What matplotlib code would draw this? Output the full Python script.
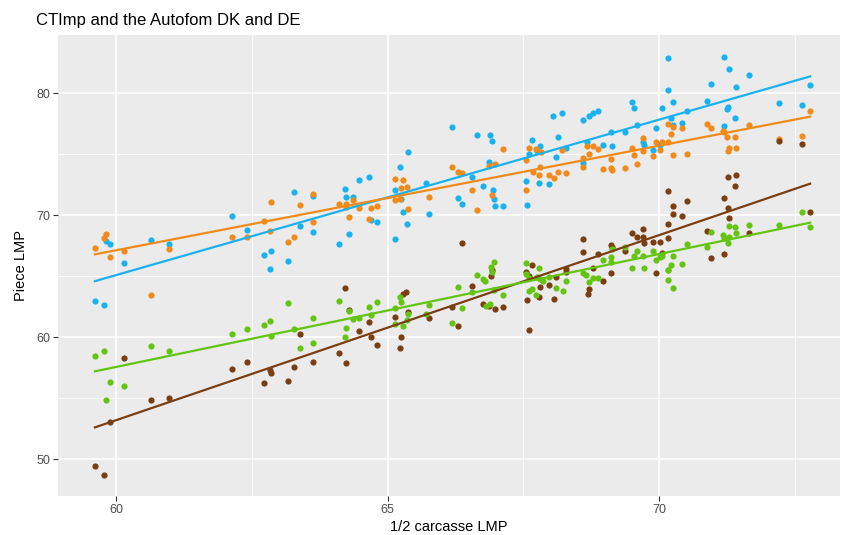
import numpy as np
import matplotlib.pyplot as plt
from matplotlib.ticker import MultipleLocator

plt.rcParams['font.family'] = ['Liberation Sans', 'DejaVu Sans']

# data: (1/2 carcasse LMP, Piece LMP)
blue_x = [59.61, 59.78, 59.82, 59.88, 60.14, 60.64, 60.98, 62.13, 62.41, 62.73, 62.86, 62.84, 63.16,
          63.28, 63.62, 63.38, 63.62, 64.22, 64.24, 64.37, 64.48, 64.66, 64.28, 64.11, 64.70, 64.81,
          65.14, 65.25, 65.22, 65.38, 65.29, 65.36, 65.14, 65.70, 65.77, 66.19, 66.64, 66.55, 66.30,
          66.37, 66.88, 66.93, 66.86, 66.76, 66.94, 66.96, 66.97, 67.13, 67.54, 67.79, 67.97, 67.56,
          67.66, 67.80, 67.61, 67.75, 68.05, 68.22, 68.13, 68.29, 68.10, 68.59, 68.70, 68.79, 68.88,
          68.68, 68.59, 68.96, 69.13, 69.11, 69.37, 69.50, 69.54, 69.59, 69.71, 69.72, 69.88, 69.95,
          70.01, 70.06, 70.16, 70.16, 70.25, 70.21, 70.25, 70.42, 70.51, 70.88, 70.95, 71.19, 71.29,
          71.26, 71.25, 71.19, 71.40, 71.42, 71.66, 72.20, 72.63, 72.78]
blue_y = [63.00, 62.66, 67.90, 67.64, 66.10, 68.00, 67.66, 69.96, 68.76, 66.74, 67.07, 65.56, 66.27,
          71.95, 71.62, 69.16, 68.65, 72.17, 71.52, 71.52, 72.88, 73.13, 68.43, 67.64, 69.60, 69.44,
          72.09, 71.35, 74.00, 75.20, 70.26, 69.30, 68.10, 72.64, 70.10, 77.28, 76.62, 73.16, 71.46,
          70.97, 76.62, 76.08, 74.41, 72.44, 72.07, 71.35, 70.80, 70.75, 72.80, 72.64, 72.56, 70.84,
          76.20, 75.70, 75.07, 75.26, 78.13, 78.40, 76.41, 75.56, 74.80, 77.83, 78.13, 78.40, 78.54,
          76.05, 74.30, 75.75, 75.67, 76.87, 76.82, 79.28, 78.79, 77.39, 76.05, 75.75, 75.37, 77.15,
          75.75, 78.84, 82.93, 80.29, 79.33, 77.97, 77.42, 77.60, 78.57, 79.41, 80.78, 82.97, 82.03,
          78.92, 78.70, 77.34, 77.99, 80.53, 81.49, 79.20, 79.03, 80.70]

orange_x = [59.61, 59.82, 59.78, 59.88, 60.14, 60.64, 60.98, 62.13, 62.41, 62.73, 62.86, 62.84, 63.16,
            63.28, 63.62, 63.38, 63.62, 64.11, 64.24, 64.24, 64.37, 64.48, 64.29, 64.70, 64.81, 64.66,
            65.14, 65.29, 65.25, 65.36, 65.14, 65.22, 65.38, 65.77, 66.19, 66.30, 66.37, 66.56, 66.64,
            66.87, 66.97, 66.92, 67.13, 67.61, 67.74, 67.83, 67.55, 67.80, 67.67, 67.79, 67.97, 68.06,
            68.13, 68.29, 67.54, 68.22, 68.68, 68.79, 68.88, 68.59, 68.70, 68.59, 69.11, 69.11, 69.13,
            68.96, 69.37, 69.50, 69.54, 69.59, 69.71, 69.71, 69.88, 69.94, 70.06, 70.16, 70.01, 70.17,
            70.25, 70.42, 70.21, 70.25, 70.51, 70.88, 70.95, 71.17, 71.19, 71.25, 71.40, 71.29, 71.26,
            71.42, 71.66, 72.20, 72.63, 72.78]
orange_y = [67.36, 68.46, 68.13, 66.60, 67.10, 63.50, 67.20, 68.26, 68.26, 69.57, 71.13, 68.73, 67.85,
            68.21, 71.79, 70.89, 69.47, 70.97, 70.94, 70.72, 71.27, 70.59, 69.85, 70.59, 70.80, 69.71,
            73.02, 72.88, 72.23, 72.31, 71.27, 71.35, 70.56, 71.52, 74.00, 73.59, 73.46, 72.09, 70.45,
            74.06, 74.20, 71.68, 75.45, 75.53, 75.43, 75.18, 74.57, 74.00, 73.54, 73.32, 73.32, 73.05,
            73.54, 73.46, 72.09, 75.39, 75.72, 75.67, 75.45, 74.69, 75.04, 74.00, 74.60, 73.87, 73.75,
            73.84, 73.87, 75.51, 74.93, 74.22, 76.33, 75.29, 74.90, 76.00, 76.05, 76.05, 75.37, 77.50,
            77.28, 77.20, 76.70, 74.96, 75.02, 77.50, 77.20, 76.95, 76.82, 76.41, 76.46, 75.51, 75.29,
            75.51, 77.42, 76.30, 76.54, 78.54]

green_x = [59.61, 59.78, 59.88, 59.82, 60.14, 60.64, 60.98, 62.13, 62.41, 62.73, 62.84, 62.86, 63.16,
           63.62, 63.28, 63.38, 63.62, 64.11, 64.24, 64.22, 64.29, 64.37, 64.48, 64.66, 64.81, 64.70,
           65.14, 65.25, 65.22, 65.38, 65.36, 65.14, 65.29, 65.70, 65.77, 66.19, 66.30, 66.37, 66.56,
           66.64, 66.95, 66.91, 66.92, 66.76, 66.80, 66.96, 67.13, 66.88, 66.81, 67.54, 67.79, 67.54,
           67.61, 67.75, 67.80, 67.87, 67.97, 67.65, 67.61, 67.73, 68.10, 68.23, 68.29, 68.59, 68.65,
           68.70, 68.79, 68.88, 68.96, 69.11, 69.11, 69.13, 69.37, 69.54, 69.59, 69.50, 69.71, 69.72,
           69.88, 69.95, 70.01, 70.06, 70.16, 70.16, 70.25, 70.17, 70.21, 70.25, 70.42, 70.51, 70.88,
           70.95, 71.17, 71.19, 71.29, 71.26, 71.28, 71.40, 71.41, 71.66, 72.20, 72.63, 72.78]
green_y = [58.48, 58.87, 56.33, 54.82, 56.00, 59.28, 58.87, 60.23, 60.70, 61.00, 61.35, 60.10, 62.77,
           61.57, 60.67, 59.11, 59.49, 62.99, 60.75, 60.02, 62.17, 61.49, 61.57, 62.44, 62.85, 61.79,
           62.36, 62.85, 63.34, 61.87, 61.43, 61.10, 60.94, 61.90, 62.66, 61.16, 64.11, 62.36, 63.67,
           65.07, 66.21, 65.80, 65.39, 64.77, 64.63, 63.89, 63.48, 62.72, 62.60, 66.13, 65.70, 65.15,
           64.90, 64.93, 64.77, 64.60, 64.93, 63.95, 63.79, 63.48, 64.03, 63.81, 64.60, 65.26, 65.10,
           64.52, 64.82, 64.82, 66.35, 66.62, 66.21, 67.23, 67.44, 66.68, 67.11, 65.70, 66.68, 65.70,
           67.11, 66.35, 66.62, 66.68, 65.53, 64.71, 66.68, 65.48, 65.94, 64.06, 66.02, 67.64, 67.44,
           68.67, 68.40, 68.18, 68.21, 67.72, 69.14, 69.06, 68.59, 69.22, 69.22, 70.31, 69.08]

brown_x = [59.61, 59.78, 59.88, 60.14, 60.64, 60.98, 62.13, 62.41, 62.73, 62.84, 62.86, 63.16, 63.28,
           63.38, 63.62, 64.11, 64.22, 64.29, 64.24, 64.48, 64.66, 64.70, 64.81, 65.14, 65.22, 65.25,
           65.29, 65.34, 65.38, 65.77, 66.19, 66.30, 66.37, 66.56, 66.76, 66.86, 66.97, 67.13, 66.91,
           66.92, 67.54, 67.61, 67.66, 67.56, 67.61, 67.80, 67.97, 67.79, 68.07, 68.10, 68.29, 68.29,
           68.59, 68.59, 68.79, 68.70, 68.69, 68.88, 68.96, 69.11, 69.13, 69.11, 69.37, 69.50, 69.71,
           69.59, 69.71, 69.72, 69.88, 70.01, 70.06, 69.95, 70.16, 70.16, 70.16, 70.25, 70.25, 70.42,
           70.51, 70.88, 70.95, 71.19, 71.19, 71.26, 71.42, 71.40, 71.26, 71.29, 71.66, 72.20, 72.63,
           72.78]
brown_y = [49.41, 48.73, 53.05, 58.32, 54.88, 55.02, 57.42, 57.99, 56.25, 57.28, 57.07, 56.38, 57.56,
           60.29, 57.97, 58.70, 64.03, 62.25, 57.89, 60.48, 61.25, 59.98, 59.33, 61.62, 59.08, 60.04,
           63.56, 63.70, 62.09, 61.57, 62.52, 60.94, 67.77, 64.22, 62.72, 62.60, 62.31, 62.52, 65.04,
           65.53, 65.34, 65.04, 65.91, 63.07, 60.61, 64.11, 64.28, 63.26, 63.10, 64.93, 65.59, 65.39,
           68.10, 66.98, 65.67, 63.95, 63.57, 66.82, 64.63, 67.56, 67.40, 65.26, 67.11, 68.54, 68.90,
           68.24, 68.26, 67.72, 67.80, 67.85, 66.90, 65.26, 72.00, 69.28, 68.18, 70.80, 70.12, 69.93,
           71.21, 68.73, 66.49, 71.43, 66.82, 73.13, 73.34, 72.42, 70.64, 69.77, 68.59, 76.08, 75.84,
           70.31]

# fitted lines (ends)
fit_x = [59.61, 72.78]
blue_fit = [64.6, 81.4]
orange_fit = [66.8, 78.1]
brown_fit = [52.6, 72.6]
green_fit = [57.2, 69.4]

series = [
    (blue_x, blue_y, blue_fit, '#1AB2EE'),
    (orange_x, orange_y, orange_fit, '#F08A1A'),
    (brown_x, brown_y, brown_fit, '#7A3E12'),
    (green_x, green_y, green_fit, '#63C412'),
]

fig = plt.figure(figsize=(8.45, 5.35), dpi=100)
ax = fig.add_axes([58/845, 1-496/535, 782/845, 461/535])
ax.set_facecolor('#EBEBEB')

for xs, ys, fit, col in series:
    ax.scatter(xs, ys, s=20, color=col, linewidths=0, zorder=3)
    ax.plot(fit_x, fit, color=col, lw=1.6, zorder=4)

ax.set_xlim(58.93, 73.33)
ax.set_ylim(46.97, 84.8)
ax.xaxis.set_major_locator(MultipleLocator(5))
ax.yaxis.set_major_locator(MultipleLocator(10))
ax.xaxis.set_minor_locator(MultipleLocator(2.5))
ax.yaxis.set_minor_locator(MultipleLocator(5))
ax.grid(which='major', color='white', lw=1.1, zorder=0)
ax.grid(which='minor', color='white', lw=0.55, zorder=0)
ax.set_axisbelow(True)
for sp in ax.spines.values():
    sp.set_visible(False)
ax.tick_params(which='major', length=3.5, color='#333333', labelcolor='#4D4D4D', labelsize=9, pad=2)
ax.tick_params(which='minor', length=0)

ax.set_xlabel('1/2 carcasse LMP', fontsize=10.5, labelpad=3)
ax.set_ylabel('Piece LMP', fontsize=10.5, labelpad=6)
fig.text(36/845, 1-20/535, 'CTImp and the Autofom DK and DE', fontsize=12, va='center', ha='left')

fig.savefig('out.png', dpi=100)
